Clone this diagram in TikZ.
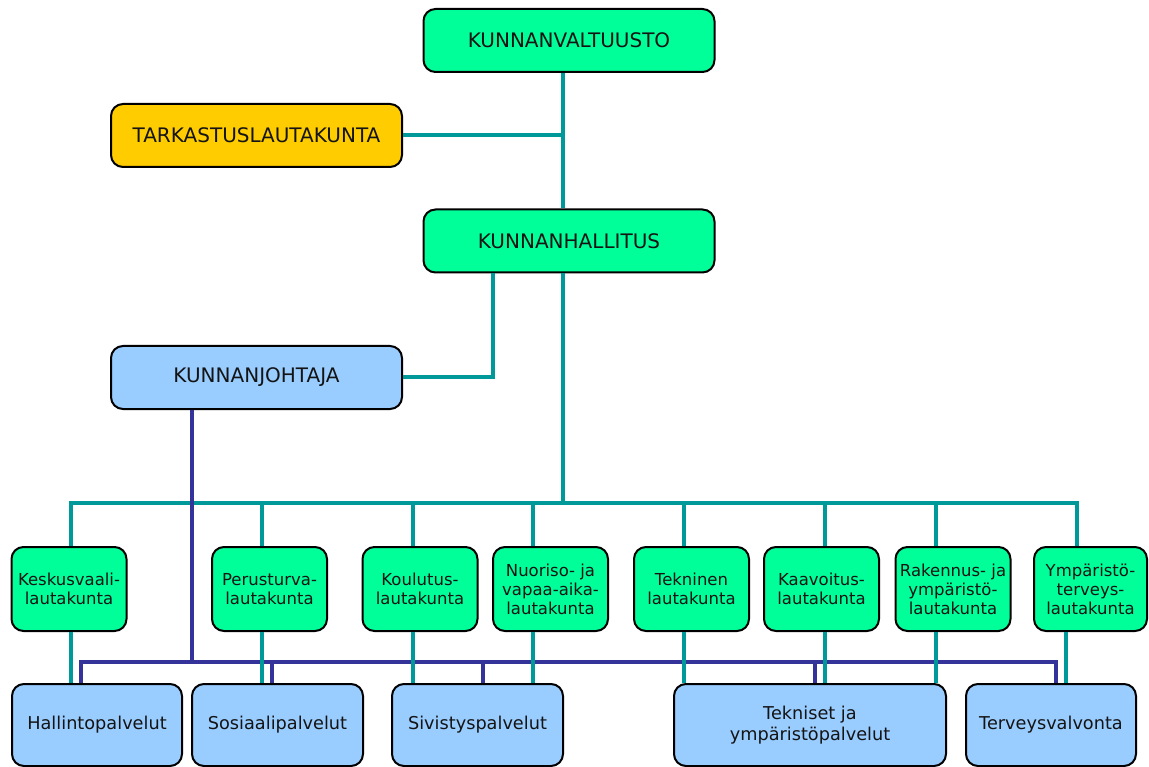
\documentclass[tikz,border=0pt]{standalone}
\usepackage{fontspec}
\setmainfont{DejaVu Sans}
\definecolor{mint}{RGB}{0,255,153}
\definecolor{gold}{RGB}{255,204,0}
\definecolor{skyb}{RGB}{153,204,255}
\definecolor{tealline}{RGB}{0,153,153}
\definecolor{blueline}{RGB}{51,51,153}
\definecolor{txt}{RGB}{20,20,20}
\tikzset{
  box/.style={draw=black, line width=2pt, rounded corners=12pt, inner sep=0pt, align=center, text=txt, anchor=center},
  topbox/.style={box, minimum width=291pt, minimum height=63pt, font=\fontsize{20}{24}\selectfont},
  lbox/.style={box, fill=mint, minimum width=115pt, minimum height=84pt, font=\fontsize{16.5}{19}\selectfont},
  sbox/.style={box, fill=skyb, minimum height=82pt, font=\fontsize{17.7}{21}\selectfont},
  tl/.style={draw=tealline, line width=4pt},
  bl/.style={draw=blueline, line width=4pt},
}
\begin{document}
\begin{tikzpicture}[x=1pt,y=-1pt]
\useasboundingbox (0,0) rectangle (1149,767);
% top nodes
\node[topbox, fill=mint] (kv) at (569,40.5) {KUNNANVALTUUSTO};
\node[topbox, fill=gold] (tk) at (256.5,135.5) {TARKASTUSLAUTAKUNTA};
\node[topbox, fill=mint] (kh) at (569,241) {KUNNANHALLITUS};
\node[topbox, fill=skyb] (kj) at (256.5,377.5) {KUNNANJOHTAJA};
% lautakunnat
\node[lbox] (l1) at (69,589) {Keskusvaali-\\lautakunta};
\node[lbox] (l2) at (269.5,589) {Perusturva-\\lautakunta};
\node[lbox] (l3) at (420,589) {Koulutus-\\lautakunta};
\node[lbox] (l4) at (550.5,589) {Nuoriso- ja\\vapaa-aika-\\lautakunta};
\node[lbox] (l5) at (691.5,589) {Tekninen\\lautakunta};
\node[lbox] (l6) at (821.5,589) {Kaavoitus-\\lautakunta};
\node[lbox] (l7) at (953,589) {Rakennus- ja\\ympäristö-\\lautakunta};
\node[lbox, minimum width=113pt] (l8) at (1090.5,589) {Ympäristö-\\terveys-\\lautakunta};
% palvelut
\node[sbox, minimum width=170pt] (s1) at (97,725) {Hallintopalvelut};
\node[sbox, minimum width=171pt] (s2) at (277.5,725) {Sosiaalipalvelut};
\node[sbox, minimum width=171pt] (s3) at (477.5,725) {Sivistyspalvelut};
\node[sbox, minimum width=272pt] (s4) at (810,725) {Tekniset ja\\ympäristöpalvelut};
\node[sbox, minimum width=170pt] (s5) at (1051,725) {Terveysvalvonta};
% coordinates
\coordinate (tr) at (563,503);
\coordinate (hj) at (493,0);
\coordinate (d1) at (71,503);
\coordinate (d2) at (262,503);
\coordinate (d3) at (413,503);
\coordinate (d4) at (533,503);
\coordinate (d5) at (684,503);
\coordinate (d6) at (825,503);
\coordinate (d7) at (936,503);
\coordinate (d8) at (1077,503);
\coordinate (e8) at (1066,662);
\coordinate (bj) at (192,662);
\coordinate (b1) at (81,662);
\coordinate (b2) at (272,662);
\coordinate (b3) at (483,662);
\coordinate (b4) at (815,662);
\coordinate (b5) at (1056,662);
% teal upper connectors
\draw[tl] (kv.south -| tr) -- (kh.north -| tr);
\draw[tl] (tk.east) -- (tk.east -| tr);
\draw[tl] (kh.south -| hj) |- (kj.east);
\draw[tl] (kh.south -| tr) -- (tr);
\draw[tl] (l1.north -| d1) -- (d1) -- (d8) -- (l8.north -| d8);
\foreach \i in {2,...,7} {\draw[tl] (d\i) -- (l\i.north -| d\i);}
% blue connectors
\draw[bl] (kj.south -| bj) -- (bj);
\draw[bl] (s1.north -| b1) -- (b1) -- (b5) -- (s5.north -| b5);
\draw[bl] (b2) -- (s2.north -| b2);
\draw[bl] (b3) -- (s3.north -| b3);
\draw[bl] (b4) -- (s4.north -| b4);
% teal lower connectors
\draw[tl] (l1.south -| d1) -- (s1.north -| d1);
\draw[tl] (l2.south -| d2) -- (s2.north -| d2);
\draw[tl] (l3.south -| d3) -- (s3.north -| d3);
\draw[tl] (l4.south -| d4) -- (s3.north -| d4);
\draw[tl] (l5.south -| d5) -- (s4.north -| d5);
\draw[tl] (l6.south -| d6) -- (s4.north -| d6);
\draw[tl] (l7.south -| d7) -- (s4.north -| d7);
\draw[tl] (l8.south -| e8) -- (s5.north -| e8);
\end{tikzpicture}
\end{document}
